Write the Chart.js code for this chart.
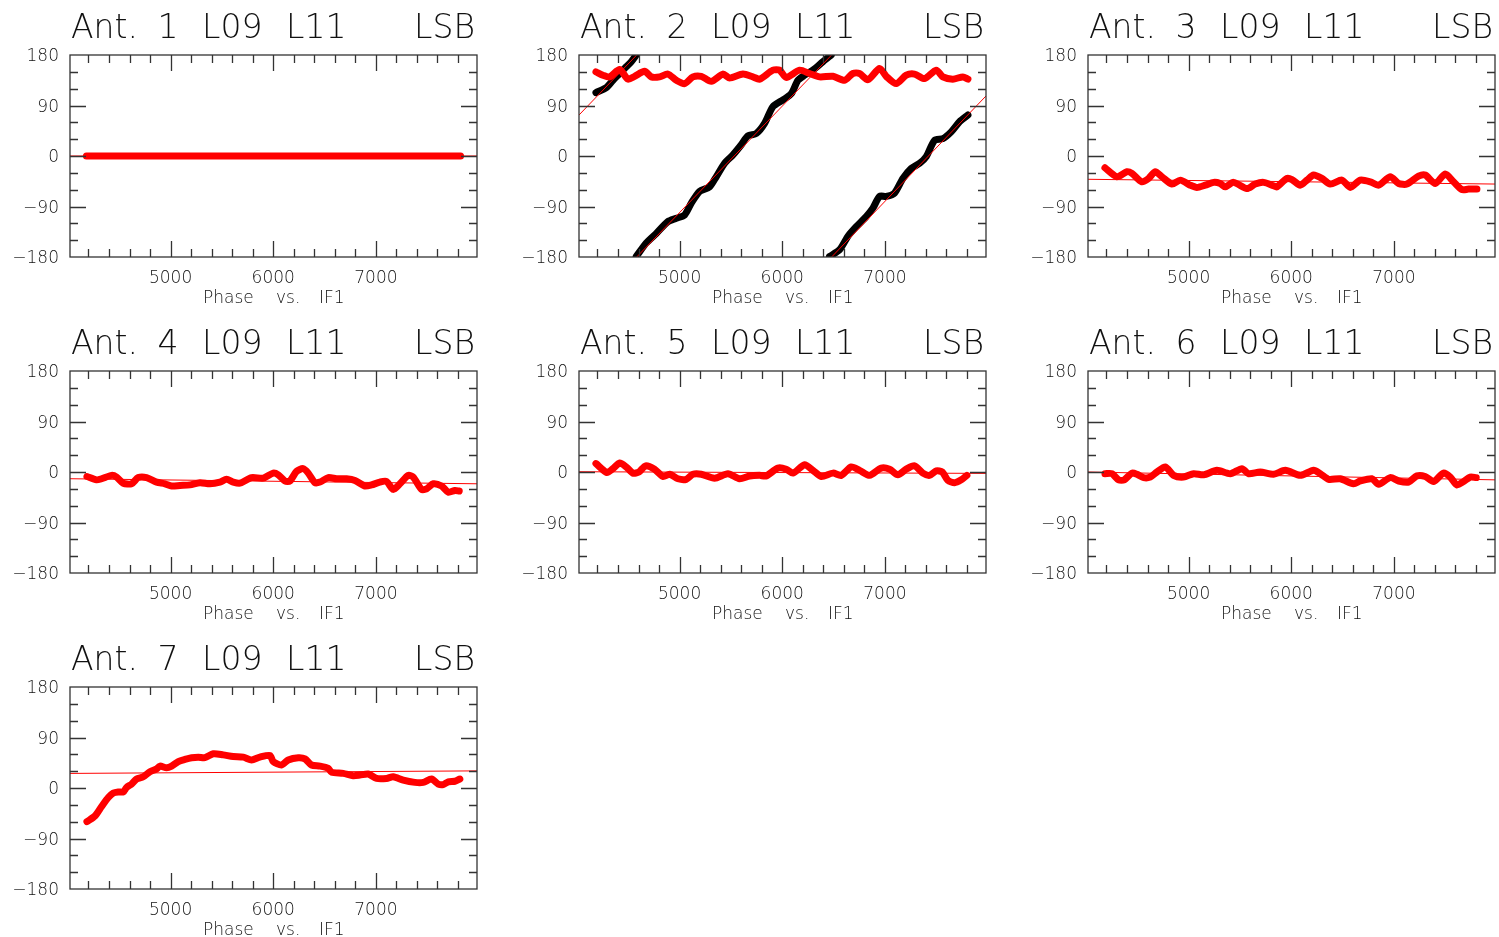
<!DOCTYPE html>
<html>
<head>
<meta charset="utf-8">
<script src="https://cdn.jsdelivr.net/npm/chart.js@4.4.1/dist/chart.umd.min.js"></script>
<style>
  html, body { margin:0; padding:0; background:#fff; width:1499px; height:937px; overflow:hidden; }
  canvas { position:absolute; }
</style>
</head>
<body>
<canvas id="p1" width="509" height="316" style="left:0px;top:0px"></canvas>
<canvas id="p2" width="509" height="316" style="left:509px;top:0px"></canvas>
<canvas id="p3" width="509" height="316" style="left:1018px;top:0px"></canvas>
<canvas id="p4" width="509" height="316" style="left:0px;top:316px"></canvas>
<canvas id="p5" width="509" height="316" style="left:509px;top:316px"></canvas>
<canvas id="p6" width="509" height="316" style="left:1018px;top:316px"></canvas>
<canvas id="p7" width="509" height="316" style="left:0px;top:632px"></canvas>
<script>
// ---- axis definitions ----
const xMin = 4020, xMax = 7985;
const yMin = -180, yMax = 180;
const xLabelTicks = [5000, 6000, 7000];
const yLabelTicks = [-180, -90, 0, 90, 180];
const titleLeft = ["Ant.", "L09", "L11"];
const titleRight = "LSB";
const xTitleWords = ["Phase", "vs.", "IF1"];
const antennas = [1, 2, 3, 4, 5, 6, 7];

// ---- data (IF1 frequency, phase in degrees) ----
const ant1X = [4180, 5000, 6000, 7000, 7825];
const ant1Y = [0, 0, 0, 0, 0];
const ant1FitX = [4020, 7985];
const ant1FitY = [0, 0];

const ant2X = [4185,4253,4318,4416,4497,4562,4659,4724,4805,4886,4968,5049,5130,5211,5308,5422,5487,5617,5714,5779,5909,5974,6039,6169,6266,6364,6494,6607,6688,6753,6834,6948,7013,7110,7208,7289,7386,7500,7565,7662,7760,7809];
const ant2Y = [150,144,141,154,137,142,151,141,141,146,135,129,141,142,133,146,139,146,141,137,153,153,140,153,147,141,142,135,147,147,136,156,142,129,144,146,138,153,141,137,141,137];
const ant2BlackX = [4185,4286,4351,4416,4480,4529,4578, 4578,
  4578,4675,4773,4886,4968,5049,5114,5195,5292,5357,5438,5520,5601,5666,5747,5828,5909,6007,6088,6153,6218,6299,6396,6477, 6477,
  6461,6559,6640,6721,6818,6883,6948,7013,7094,7175,7257,7338,7403,7484,7565,7646,7727,7809];
const ant2BlackY = [113,122,135,147,159,168,180, null,
  -179,-155,-138,-117,-111,-105,-84,-63,-55,-37,-13,2,20,36,40,58,88,100,111,135,144,153,168,180, null,
  -179,-167,-143,-126,-108,-93,-72,-72,-66,-40,-22,-13,-1,28,31,43,61,73];
const ant2FitX = [4020, 4582, 4582, 4582, 6481, 6481, 6481, 7985];
const ant2FitY = [73, 180, null, -180, 180, null, -180, 107];

const ant3X = [4185,4302,4399,4448,4545,4610,4675,4740,4838,4919,5016,5081,5162,5244,5308,5357,5438,5568,5649,5731,5828,5860,5958,6007,6088,6153,6218,6299,6380,6494,6575,6672,6770,6851,6964,7046,7127,7240,7305,7403,7500,7581,7663,7727,7809];
const ant3Y = [-21,-37,-28,-31,-46,-40,-28,-37,-50,-43,-52,-56,-52,-47,-49,-55,-47,-58,-50,-47,-53,-55,-40,-42,-52,-43,-34,-40,-50,-43,-56,-43,-46,-52,-37,-49,-50,-36,-34,-49,-32,-46,-60,-59,-59];
const ant3FitX = [4020, 7985];
const ant3FitY = [-41.5, -50];

const ant4X = [4185,4279,4328,4425,4474,4539,4620,4685,4766,4864,4945,5010,5091,5188,5286,5383,5481,5545,5610,5675,5789,5903,6000,6049,6114,6162,6227,6292,6341,6406,6455,6536,6617,6714,6796,6893,6958,7039,7104,7169,7234,7315,7364,7445,7494,7559,7640,7705,7770,7812];
const ant4Y = [-8,-14,-12,-6,-9,-20,-21,-10,-10,-18,-21,-25,-24,-23,-19,-21,-18,-13,-18,-20,-10,-11,-2,-5,-16,-16,1,6,-2,-19,-18,-10,-12,-12,-15,-25,-23,-18,-17,-31,-21,-6,-9,-31,-30,-21,-25,-36,-33,-34];
const ant4FitX = [4020, 7985];
const ant4FitY = [-12, -21];

const ant5X = [4185,4292,4351,4416,4480,4545,4604,4669,4756,4838,4903,4984,5065,5130,5211,5341,5471,5584,5682,5779,5844,5958,6039,6104,6218,6299,6380,6494,6575,6672,6753,6851,6964,7046,7127,7208,7289,7370,7435,7500,7559,7614,7679,7744,7799];
const ant5Y = [15,-1,6,16,9,-2,0,11,5,-8,-4,-12,-13,-4,-4,-11,-3,-12,-7,-6,-7,7,5,-2,13,3,-8,-2,-6,9,3,-6,7,5,-5,5,11,-2,-6,2,0,-15,-19,-14,-6];
const ant5FitX = [4020, 7985];
const ant5FitY = [0.5, -2.5];

const ant6X = [4185,4253,4318,4373,4448,4497,4562,4627,4692,4773,4854,4951,5049,5146,5276,5406,5520,5584,5698,5828,5942,6088,6218,6283,6364,6477,6607,6672,6786,6851,6964,7046,7143,7224,7305,7386,7484,7549,7614,7679,7744,7802];
const ant6Y = [-3,-3,-14,-14,-2,-4,-10,-9,0,9,-6,-9,-3,-5,3,-3,6,-3,0,-4,3,-6,3,-3,-13,-12,-21,-16,-12,-22,-10,-16,-18,-7,-8,-17,-2,-9,-23,-17,-9,-10];
const ant6FitX = [4020, 7985];
const ant6FitY = [0, -14];

const ant7X = [4185,4263,4328,4393,4442,4490,4539,4571,4620,4669,4734,4799,4864,4896,4961,5010,5075,5140,5205,5270,5334,5416,5513,5610,5708,5789,5870,5968,6000,6081,6146,6244,6309,6373,6455,6536,6568,6682,6779,6844,6925,7007,7104,7169,7266,7380,7461,7542,7607,7656,7705,7770,7818];
const ant7Y = [-60,-50,-33,-17,-9,-7,-7,1,7,16,20,29,34,39,36,39,47,51,54,55,54,61,59,56,55,50,55,58,47,41,50,54,52,41,39,35,28,26,22,23,25,17,17,20,14,10,10,16,7,6,11,12,16];
const ant7FitX = [4020, 7985];
const ant7FitY = [26, 30.5];

// ---- helpers ----
function pts(xs, ys) { return xs.map((x, i) => ({ x: x, y: ys[i] })); }

const panelData = [
  { ant: antennas[0], red: pts(ant1X, ant1Y), fit: pts(ant1FitX, ant1FitY) },
  { ant: antennas[1], red: pts(ant2X, ant2Y), fit: pts(ant2FitX, ant2FitY), black: pts(ant2BlackX, ant2BlackY) },
  { ant: antennas[2], red: pts(ant3X, ant3Y), fit: pts(ant3FitX, ant3FitY) },
  { ant: antennas[3], red: pts(ant4X, ant4Y), fit: pts(ant4FitX, ant4FitY) },
  { ant: antennas[4], red: pts(ant5X, ant5Y), fit: pts(ant5FitX, ant5FitY) },
  { ant: antennas[5], red: pts(ant6X, ant6Y), fit: pts(ant6FitX, ant6FitY) },
  { ant: antennas[6], red: pts(ant7X, ant7Y), fit: pts(ant7FitX, ant7FitY) },
];

const FRAME = '#333333';
const TEXT = '#111111';
const FONT_FAMILY = '"DejaVu Sans", Lato, sans-serif';
const FONT_WEIGHT = '200';

const decorPlugin = {
  id: 'decor',
  afterDatasetsDraw(chart) {
    const { ctx, chartArea: a, scales } = chart;
    const xs = scales.x, ys = scales.y;
    ctx.save();
    ctx.strokeStyle = FRAME;
    ctx.lineWidth = 1.3;
    ctx.strokeRect(a.left, a.top, a.right - a.left, a.bottom - a.top);
    ctx.beginPath();
    for (let v = 4200; v <= 7800; v += 200) {
      const px = Math.round(xs.getPixelForValue(v)) + 0.5;
      const len = (v % 1000 === 0) ? 16 : 8;
      ctx.moveTo(px, a.bottom); ctx.lineTo(px, a.bottom - len);
      ctx.moveTo(px, a.top); ctx.lineTo(px, a.top + len);
    }
    for (let v = -150; v <= 150; v += 30) {
      const py = Math.round(ys.getPixelForValue(v)) + 0.5;
      const len = (v % 90 === 0) ? 16 : 8;
      ctx.moveTo(a.left, py); ctx.lineTo(a.left + len, py);
      ctx.moveTo(a.right, py); ctx.lineTo(a.right - len, py);
    }
    ctx.stroke();

    // title
    const ant = chart.options.plugins.decor.ant;
    ctx.fillStyle = TEXT;
    ctx.textBaseline = 'alphabetic';
    ctx.font = FONT_WEIGHT + ' 33px ' + FONT_FAMILY;
    const ty = a.top - 17;
    ctx.textAlign = 'left';
    ctx.fillText(titleLeft[0], a.left + 1, ty);
    ctx.textAlign = 'center';
    ctx.fillText(String(ant), a.left + 98, ty);
    ctx.textAlign = 'left';
    ctx.fillText(titleLeft[1], a.left + 132, ty);
    ctx.fillText(titleLeft[2], a.left + 216, ty);
    ctx.textAlign = 'right';
    ctx.fillText(titleRight, a.right - 2, ty);

    // x axis title
    ctx.font = FONT_WEIGHT + ' 17px ' + FONT_FAMILY;
    ctx.textAlign = 'left';
    const by = a.bottom + 46;
    ctx.fillText(xTitleWords[0], a.left + 133, by);
    ctx.fillText(xTitleWords[1], a.left + 206, by);
    ctx.fillText(xTitleWords[2], a.left + 249, by);
    ctx.restore();
  }
};

panelData.forEach((p, i) => {
  const datasets = [
    { data: p.fit, borderColor: '#ff0000', borderWidth: 1, pointRadius: 0, tension: 0, spanGaps: false, clip: 0 },
    { data: p.red, borderColor: '#ff0000', borderWidth: 7, pointRadius: 0, tension: 0.25,
      borderCapStyle: 'round', borderJoinStyle: 'round', clip: 0 },
  ];
  if (p.black) {
    datasets.push({ data: p.black, borderColor: '#000000', borderWidth: 7, pointRadius: 0, tension: 0.25,
      borderCapStyle: 'round', borderJoinStyle: 'round', spanGaps: false, clip: 0 });
  }
  new Chart(document.getElementById('p' + (i + 1)), {
    type: 'line',
    data: { datasets: datasets },
    options: {
      responsive: false,
      animation: false,
      events: [],
      layout: { padding: { left: 0, top: 55, right: 32, bottom: 0 } },
      plugins: { legend: { display: false }, tooltip: { enabled: false }, decor: { ant: p.ant } },
      scales: {
        x: {
          type: 'linear', min: xMin, max: xMax,
          grid: { display: false, drawTicks: false }, border: { display: false },
          afterFit: (s) => { s.height = 59; },
          afterBuildTicks: (s) => { s.ticks = xLabelTicks.map(v => ({ value: v })); },
          ticks: { autoSkip: false, maxRotation: 0, padding: 11, color: TEXT,
            font: { family: FONT_FAMILY, size: 17, weight: FONT_WEIGHT },
            callback: (v) => String(v) }
        },
        y: {
          type: 'linear', min: yMin, max: yMax,
          grid: { display: false, drawTicks: false }, border: { display: false },
          afterFit: (s) => { s.width = 70; },
          afterBuildTicks: (s) => { s.ticks = yLabelTicks.map(v => ({ value: v })); },
          ticks: { autoSkip: false, padding: 11, labelOffset: 2, color: TEXT,
            font: { family: FONT_FAMILY, size: 17, weight: FONT_WEIGHT },
            callback: (v) => v < 0 ? '\u2212' + Math.abs(v) : String(v) }
        }
      }
    },
    plugins: [decorPlugin]
  });
});
</script>
</body>
</html>
